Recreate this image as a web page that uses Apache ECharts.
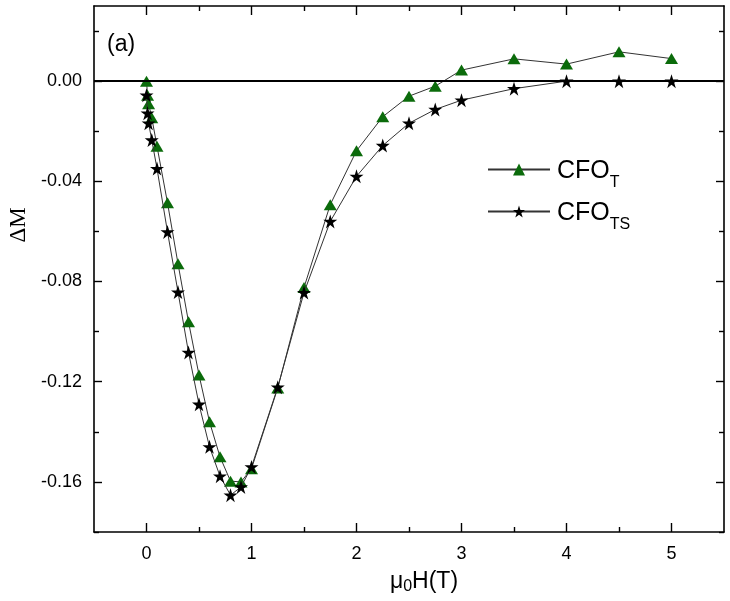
<!DOCTYPE html>
<html>
<head>
<meta charset="utf-8">
<script src="https://cdn.jsdelivr.net/npm/echarts@6/dist/echarts.min.js"></script>
<style>
  html, body { margin: 0; padding: 0; background: #fff; }
  #chart { width: 730px; height: 601px; }
</style>
</head>
<body>
<div id="chart"></div>
<script>
// 数据：μ0H (T) 与 ΔM
const fieldT = [0, 0.01, 0.02, 0.05, 0.1, 0.2, 0.3, 0.4, 0.5, 0.6, 0.7, 0.8, 0.9, 1.0, 1.25, 1.5, 1.75, 2.0, 2.25, 2.5, 2.75, 3.0, 3.5, 4.0, 4.5, 5.0];
const deltaT = [0.000, -0.0056, -0.009, -0.0146, -0.026, -0.0486, -0.0729, -0.0961, -0.1173, -0.136, -0.150, -0.1597, -0.160, -0.1547, -0.1225, -0.0824, -0.0493, -0.0278, -0.0142, -0.006, -0.002, 0.0044, 0.0089, 0.0068, 0.0117, 0.009];

const fieldTS = [0, 0.01, 0.02, 0.05, 0.1, 0.2, 0.3, 0.4, 0.5, 0.6, 0.7, 0.8, 0.9, 1.0, 1.25, 1.5, 1.75, 2.0, 2.25, 2.5, 2.75, 3.0, 3.5, 4.0, 4.5, 5.0];
const deltaTS = [-0.0056, -0.0128, -0.0168, -0.0235, -0.0349, -0.0602, -0.0842, -0.1083, -0.129, -0.146, -0.1577, -0.1653, -0.162, -0.154, -0.1222, -0.0844, -0.056, -0.038, -0.0257, -0.0168, -0.0113, -0.0076, -0.003, 0, 0, 0];

// 刻度
const xMajorTicks = [0, 1, 2, 3, 4, 5];
const xMinorTicks = [0.5, 1.5, 2.5, 3.5, 4.5];
const yMajorTicks = [-0.16, -0.12, -0.08, -0.04, 0];
const yMinorTicks = [-0.18, -0.14, -0.10, -0.06, -0.02, 0.02];

const FONT = '"Liberation Sans", Arial, sans-serif';
const STAR = 'path://M50,0L61.2,34.5L97.6,34.5L68.2,55.9L79.4,90.5L50,69.1L20.6,90.5L31.8,55.9L2.4,34.5L38.8,34.5Z';

const chart = echarts.init(document.getElementById('chart'));

// 生成坐标轴（主刻度/次刻度分开画）
function makeAxis(dim, position, ticks, len, withLine, withLabel) {
    const isX = dim === 'x';
    return {
        type: 'value',
        position: position,
        min: isX ? -0.5 : -0.18,
        max: isX ? 5.5 : 0.03,
        axisLine: { show: withLine, onZero: false, lineStyle: { color: '#000', width: 1.6 } },
        axisTick: { show: true, inside: true, length: len, customValues: ticks, lineStyle: { color: '#000', width: 1.4 } },
        axisLabel: {
            show: withLabel,
            customValues: ticks,
            color: '#000',
            fontSize: 18,
            fontFamily: FONT,
            margin: isX ? 13 : 12,
            formatter: v => isX ? String(Math.round(v)) : v.toFixed(2)
        },
        splitLine: { show: false }
    };
}

const option = {
    backgroundColor: '#fff',
    animation: false,
    grid: { left: 94, right: 6, top: 6, bottom: 69 },
    xAxis: [
        makeAxis('x', 'bottom', xMajorTicks, 9, true, true),
        makeAxis('x', 'bottom', xMinorTicks, 5, false, false),
        makeAxis('x', 'top', xMajorTicks, 9, true, false),
        makeAxis('x', 'top', xMinorTicks, 5, false, false)
    ],
    yAxis: [
        makeAxis('y', 'left', yMajorTicks, 8, true, true),
        makeAxis('y', 'left', yMinorTicks, 5, false, false),
        makeAxis('y', 'right', yMajorTicks, 8, true, false),
        makeAxis('y', 'right', yMinorTicks, 5, false, false)
    ],
    legend: {
        orient: 'vertical',
        left: 487,
        top: 155,
        padding: 0,
        itemWidth: 62,
        itemHeight: 15,
        itemGap: 6,
        data: ['CFO_T', 'CFO_TS'],
        formatter: name => name === 'CFO_T' ? '{m|CFO}{s|T}' : '{m|CFO}{s|TS}',
        textStyle: {
            color: '#000',
            padding: [0, 0, 0, 2],
            rich: {
                m: { fontSize: 25, fontFamily: FONT, color: '#000', lineHeight: 29, padding: [4, 0, 0, 0], verticalAlign: 'top' },
                s: { fontSize: 16, fontFamily: FONT, color: '#000', lineHeight: 16, padding: [20, 0, 0, 0], verticalAlign: 'top' }
            }
        }
    },
    graphic: [
        {
            type: 'text', left: 107, top: 33,
            style: { text: '(a)', font: '23px ' + FONT, fill: '#000' }
        },
        {
            type: 'text', x: 19, y: 225, rotation: Math.PI / 2,
            style: { text: 'ΔM', font: '23px "Liberation Serif", "Times New Roman", serif', fill: '#000', align: 'center', verticalAlign: 'middle' }
        },
        {
            type: 'text', x: 424, y: 582,
            style: {
                text: '{a|μ}{b|0}{a|H(T)}',
                align: 'center', verticalAlign: 'middle',
                rich: {
                    a: { fontSize: 23, fontFamily: FONT, fill: '#000', color: '#000', lineHeight: 26 },
                    b: { fontSize: 16, fontFamily: FONT, fill: '#000', color: '#000', lineHeight: 4, verticalAlign: 'bottom' }
                }
            }
        }
    ],
    series: [
        {
            name: 'CFO_T',
            type: 'line',
            data: fieldT.map((x, i) => [x, deltaT[i]]),
            symbol: 'triangle',
            symbolSize: [13, 11],
            itemStyle: { color: '#0b6b0b' },
            lineStyle: { color: '#333', width: 1 },
            markLine: {
                silent: true,
                symbol: 'none',
                label: { show: false },
                lineStyle: { color: '#000', width: 2, type: 'solid' },
                data: [{ yAxis: 0 }]
            },
            z: 3
        },
        {
            name: 'CFO_TS',
            type: 'line',
            data: fieldTS.map((x, i) => [x, deltaTS[i]]),
            symbol: STAR,
            symbolSize: 14,
            itemStyle: { color: '#000' },
            lineStyle: { color: '#333', width: 1 },
            z: 4
        }
    ]
};

chart.setOption(option);
</script>
</body>
</html>
